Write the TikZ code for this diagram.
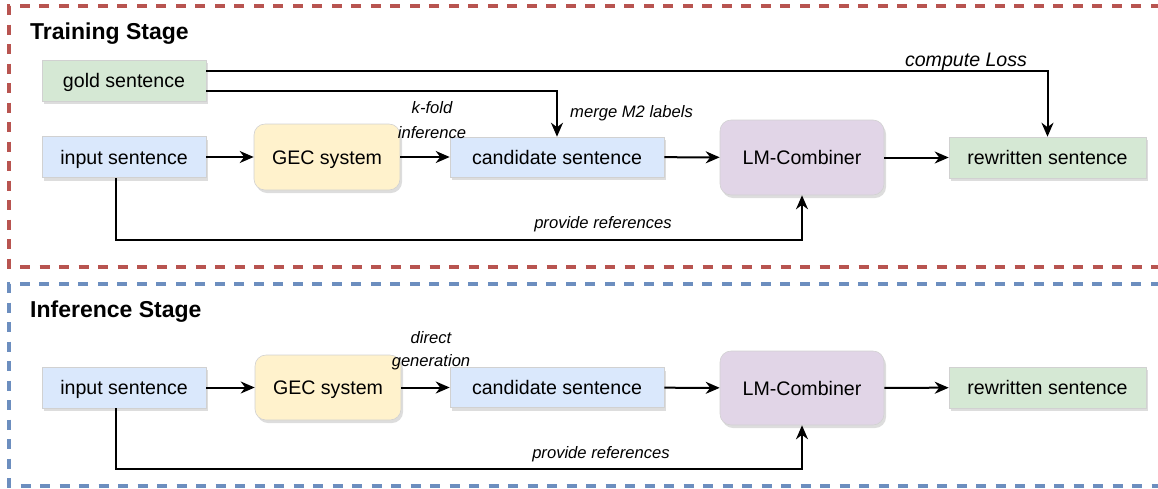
\documentclass[tikz,border=0pt]{standalone}
\usepackage{fontspec}
\setmainfont{Liberation Sans}
\usetikzlibrary{arrows.meta,shadows,calc}
\definecolor{gfill}{HTML}{D5E8D4}
\definecolor{bfill}{HTML}{DAE8FC}
\definecolor{yfill}{HTML}{FFF2CC}
\definecolor{pfill}{HTML}{E1D5E7}
\definecolor{redd}{HTML}{B85450}
\definecolor{blued}{HTML}{6C8EBF}
\tikzset{
  box/.style={draw=black!18, line width=0.6pt, minimum height=#1, inner sep=0pt, font=\fontsize{19.6}{22}\selectfont,
    text depth=0pt, text height=14pt,
    drop shadow={shadow xshift=2pt, shadow yshift=-3pt, opacity=0.22, fill=black!60}},
  sq/.style={box=41pt, minimum width=#1},
  rbox/.style={box=#1, rounded corners=11pt},
  conn/.style={line width=2pt, -{Stealth[length=14pt,width=12pt,inset=4.5pt]}},
  lbl/.style={font=\fontsize{16.6}{19}\selectfont\itshape, inner sep=0pt},
  stage/.style={font=\fontsize{23}{26}\selectfont\bfseries, anchor=west, inner sep=0pt},
  frame/.style={line width=3.2pt, dash pattern=on 10pt off 9.5pt}
}
\begin{document}
\begin{tikzpicture}[x=1pt,y=-1pt]
\useasboundingbox (0,0) rectangle (1158,488);
\draw[frame, draw=redd] (1180,6) -- (9,6) -- (9,267) -- (1180,267);
\draw[frame, draw=blued] (1180,284) -- (9,284) -- (9,486) -- (1180,486);
\node[stage] (t1) at (30,34) {Training Stage};
\node[stage] (t2) at (30,312) {Inference Stage};
% training
\node[sq=164pt, fill=gfill] (gold) at (124,80.5) {gold sentence};
\node[sq=164pt, fill=bfill] (in1) at (124,157) {input sentence};
\node[rbox=66pt, minimum width=146pt, fill=yfill] (gec1) at (327,157) {GEC system};
\node[sq=214pt, minimum height=40pt, fill=bfill] (cand1) at (557,157) {candidate sentence};
\node[rbox=75pt, minimum width=164pt, fill=pfill] (lm1) at (802,157.5) {LM-Combiner};
\node[sq=197pt, fill=gfill] (rew1) at (1047.5,157.5) {rewritten sentence};
\draw[conn] (in1) -- (gec1);
\draw[conn] (gec1) -- (cand1);
\draw[conn] (cand1) -- (lm1);
\draw[conn] (lm1) -- (rew1);
\draw[conn] ($(gold.east)+(0,-9.5)$) -| (rew1.north);
\draw[conn] ($(gold.east)+(0,10.5)$) -| (cand1.north);
\coordinate (c1) at (116,240);
\draw[conn] (in1.south -| c1) -- (c1) -| (lm1.south);
\node[lbl] (kf) at (432,108) {k-fold};
\node[lbl] (kf2) at (432,133) {inference};
\node[lbl, anchor=west] (mm) at (570,113) {merge M2 labels};
\node[lbl] (pr1) at (603,224) {provide references};
\node[lbl, font=\fontsize{19.6}{22}\selectfont\itshape] (cl) at (966,62) {compute Loss};
% inference
\node[sq=164pt, fill=bfill] (in2) at (124,387.5) {input sentence};
\node[rbox=65pt, minimum width=146pt, fill=yfill] (gec2) at (328,387.5) {GEC system};
\node[sq=214pt, minimum height=40pt, fill=bfill] (cand2) at (557,387.5) {candidate sentence};
\node[rbox=74pt, minimum width=164pt, fill=pfill] (lm2) at (802,388) {LM-Combiner};
\node[sq=197pt, fill=gfill] (rew2) at (1047.5,387.5) {rewritten sentence};
\draw[conn] (in2) -- (gec2);
\draw[conn] (gec2) -- (cand2);
\draw[conn] (cand2) -- (lm2);
\draw[conn] (lm2) -- (rew2);
\coordinate (c2) at (116,469);
\draw[conn] (in2.south -| c2) -- (c2) -| (lm2.south);
\node[lbl] (dg) at (431,338) {direct};
\node[lbl] (dg2) at (431,362) {generation};
\node[lbl] (pr2) at (601,454) {provide references};
\end{tikzpicture}
\end{document}
